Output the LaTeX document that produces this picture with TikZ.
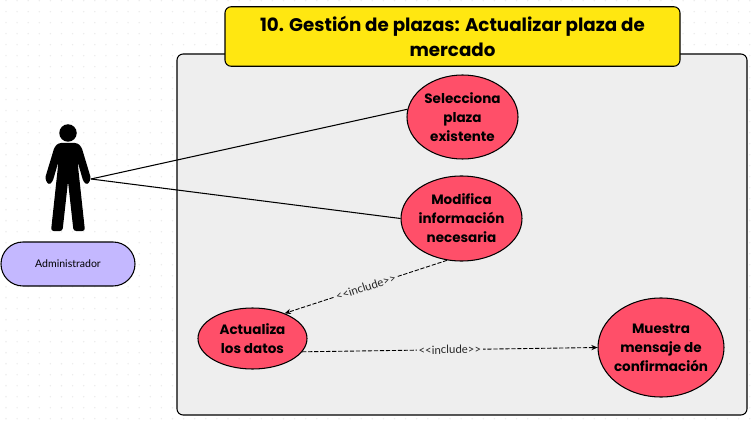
\documentclass[tikz,border=0pt]{standalone}
\usepackage{fontspec}
\setmainfont{Poppins}
\newfontfamily\thinfont{Lato}
\usetikzlibrary{shapes.geometric,arrows.meta}
\definecolor{panelgray}{HTML}{EEEEEE}
\definecolor{titleyellow}{HTML}{FFE711}
\definecolor{usecasered}{HTML}{FF4F69}
\definecolor{actorlilac}{HTML}{C4B8FF}
\definecolor{griddot}{HTML}{ECECEC}
\tikzset{
  usecase/.style={ellipse,draw=black,fill=usecasered,line width=0.6pt,inner sep=-6pt,align=center,
    font=\fontsize{7.7}{10.8}\selectfont\bfseries},
  includeline/.style={dash pattern=on 2.4pt off 1pt,line width=0.5pt,-{Stealth[length=3.5pt,width=3pt]}},
  includelabel/.style={fill=panelgray,inner sep=1pt,text=black!85,font=\thinfont\fontsize{6.5}{7}\selectfont},
}
\begin{document}
\begin{tikzpicture}
\useasboundingbox (0,0) rectangle (15.04,8.54);
\fill[white] (0,0) rectangle (15.04,8.54);
% dotted canvas
\foreach \x in {0,...,67}
  \foreach \y in {0,...,38}
    \fill[griddot] (0.12+0.222*\x,8.526-0.22*\y) circle (0.016);
% system panel
\node[draw=black,fill=panelgray,line width=0.6pt,rounded corners=3.5pt,minimum width=11.4cm,minimum height=7.22cm] (panel) at (9.24,3.85) {};
% title
\node[draw=black,fill=titleyellow,line width=0.6pt,rounded corners=3.5pt,minimum width=9.1cm,minimum height=1.19cm,align=center,
  font=\fontsize{10.4}{14.4}\selectfont\bfseries] (title) at (9.05,7.81)
  {10. Gestión de plazas: Actualizar plaza de\\mercado};
% actor
\fill (1.36,5.88) circle (0.175);
\fill[rounded corners=1.5pt] (1.17,5.68) -- (1.55,5.68) -- (1.63,5.60) -- (1.82,4.97) -- (1.75,4.84) -- (1.67,4.90) -- (1.55,5.31)
  -- (1.70,3.92) -- (1.47,3.92) -- (1.36,4.91) -- (1.25,3.92) -- (1.02,3.92) -- (1.17,5.31)
  -- (1.05,4.90) -- (0.97,4.84) -- (0.90,4.97) -- (1.09,5.60) -- cycle;
\coordinate (hand) at (1.82,4.96);
\node[draw=black,fill=actorlilac,line width=0.6pt,rounded corners=0.44cm,minimum width=2.68cm,minimum height=0.88cm,
  font=\thinfont\fontsize{6}{7}\selectfont] (admin) at (1.36,3.26) {Administrador};
% use cases
\node[usecase,minimum width=2.22cm,minimum height=1.68cm] (selecciona) at (9.25,6.2) {Selecciona\\plaza\\existente};
\node[usecase,minimum width=2.42cm,minimum height=1.70cm] (modifica) at (9.23,4.17) {Modifica\\información\\necesaria};
\node[usecase,minimum width=2.18cm,minimum height=1.22cm] (actualiza) at (5.05,1.77) {Actualiza\\los datos};
\node[usecase,minimum width=2.52cm,minimum height=1.98cm] (muestra) at (13.22,1.59) {Muestra\\mensaje de\\confirmación};
% connectors
\draw[line width=0.6pt] (hand) -- (selecciona.172);
\draw[line width=0.6pt] (hand) -- (modifica.west);
\draw[includeline] (modifica.251) -- node[includelabel,sloped] (incone) {<<include>>} (actualiza.38);
\draw[includeline] (actualiza.345) -- node[includelabel,sloped] (inctwo) {<<include>>} (muestra.west);
\end{tikzpicture}
\end{document}
